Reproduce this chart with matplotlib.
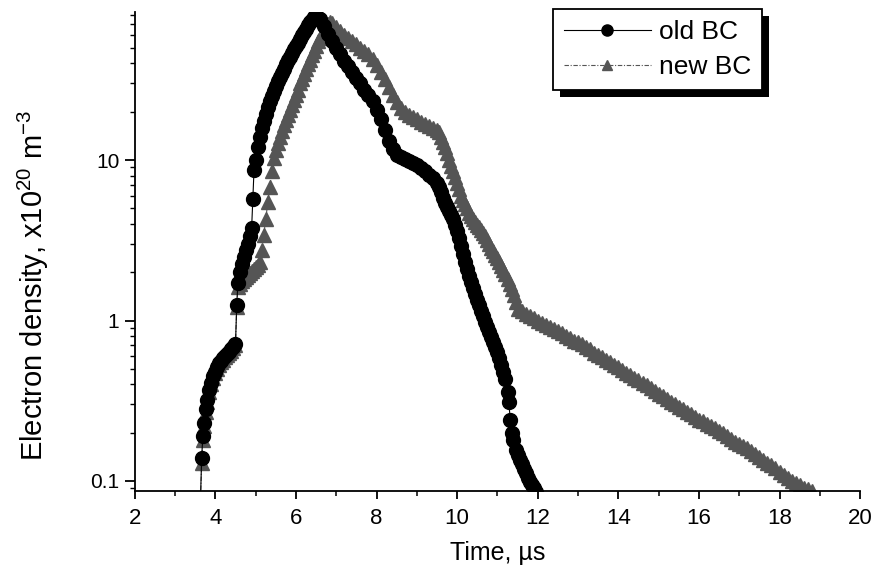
"""
Electron density vs time for the old and new boundary conditions.
"""

import matplotlib

matplotlib.use("Agg")
from matplotlib import pyplot as plt
from matplotlib.patches import Rectangle
from matplotlib.ticker import FixedLocator, FuncFormatter, LogLocator, MultipleLocator
from matplotlib.transforms import IdentityTransform

plt.rcParams["font.family"] = ["Liberation Sans", "DejaVu Sans"]
plt.rcParams["mathtext.fontset"] = "custom"
plt.rcParams["mathtext.rm"] = "Liberation Sans"
plt.rcParams["mathtext.it"] = "Liberation Sans:italic"

# old BC (circles), time in us, density in 1e20 m^-3
t_old = [
    3.62, 3.66, 3.69, 3.72, 3.76, 3.80, 3.85, 3.90, 3.95, 4.00, 4.05, 4.10,
    4.15, 4.20, 4.25, 4.30, 4.35, 4.40, 4.45, 4.50, 4.53, 4.56, 4.60, 4.65,
    4.70, 4.75, 4.80, 4.85, 4.90, 4.93, 4.96, 5.00, 5.05, 5.10, 5.15, 5.20,
    5.25, 5.30, 5.35, 5.40, 5.45, 5.50, 5.55, 5.60, 5.65, 5.70, 5.75, 5.80,
    5.85, 5.90, 5.95, 6.00, 6.05, 6.10, 6.15, 6.20, 6.25, 6.30, 6.35, 6.40,
    6.45, 6.50, 6.60, 6.70, 6.80, 6.90, 7.00, 7.10, 7.20, 7.30, 7.40, 7.50,
    7.60, 7.70, 7.80, 7.90, 8.00, 8.10, 8.20, 8.30, 8.40, 8.50, 8.60, 8.70,
    8.80, 8.90, 9.00, 9.10, 9.20, 9.30, 9.40, 9.50, 9.55, 9.60, 9.65, 9.70,
    9.75, 9.80, 9.85, 9.90, 9.95, 10.0, 10.05, 10.1, 10.15, 10.2, 10.25, 10.3,
    10.35, 10.4, 10.45, 10.5, 10.55, 10.6, 10.65, 10.7, 10.75, 10.8, 10.85, 10.9,
    10.95, 11.0, 11.05, 11.1, 11.15, 11.2, 11.25, 11.28, 11.32, 11.35, 11.38, 11.45,
    11.5, 11.55, 11.6, 11.65, 11.7, 11.75, 11.8, 11.85, 11.9, 11.95,
]
n_old = [
    0.06, 0.14, 0.19, 0.23, 0.28, 0.32, 0.37, 0.41, 0.45, 0.48, 0.51, 0.54,
    0.56, 0.58, 0.60, 0.62, 0.64, 0.66, 0.68, 0.71, 1.25, 1.71, 2.0, 2.25,
    2.5, 2.75, 3.0, 3.35, 3.75, 5.7, 8.7, 10.0, 12.0, 14.0, 15.8, 17.5,
    19.5, 21.3, 23.2, 25.0, 27.0, 29.0, 31.0, 33.0, 35.0, 37.2, 39.5, 41.8,
    44.0, 46.5, 49.0, 51.5, 54.0, 57.0, 60.0, 63.0, 66.0, 69.0, 72.0, 75.0,
    77.5, 80.0, 76.0, 68.0, 61.0, 55.0, 50.0, 45.5, 41.5, 38.5, 35.5, 32.5,
    30.0, 27.5, 25.3, 23.2, 20.5, 18.0, 15.5, 13.2, 11.7, 10.8, 10.5, 10.2,
    9.9, 9.6, 9.3, 8.9, 8.5, 8.1, 7.7, 7.2, 6.8, 6.3, 5.8, 5.4,
    5.1, 4.8, 4.55, 4.3, 3.95, 3.6, 3.25, 2.9, 2.6, 2.3, 2.1, 1.9,
    1.75, 1.6, 1.47, 1.35, 1.25, 1.15, 1.06, 0.98, 0.91, 0.85, 0.79, 0.73,
    0.68, 0.64, 0.58, 0.53, 0.48, 0.43, 0.36, 0.31, 0.24, 0.20, 0.18, 0.155,
    0.145, 0.135, 0.127, 0.119, 0.112, 0.105, 0.099, 0.094, 0.09, 0.085,
]

# new BC (triangles)
t_new = [
    3.62, 3.66, 3.69, 3.72, 3.76, 3.80, 3.85, 3.90, 3.95, 4.00, 4.05, 4.10,
    4.15, 4.20, 4.25, 4.30, 4.35, 4.40, 4.45, 4.50, 4.53, 4.56, 4.60, 4.65,
    4.70, 4.75, 4.80, 4.85, 4.90, 4.95, 5.00, 5.05, 5.10, 5.15, 5.20, 5.25,
    5.30, 5.35, 5.40, 5.45, 5.50, 5.55, 5.60, 5.65, 5.70, 5.75, 5.80, 5.85,
    5.90, 5.95, 6.00, 6.05, 6.10, 6.15, 6.20, 6.25, 6.30, 6.35, 6.40, 6.45,
    6.50, 6.55, 6.60, 6.65, 6.70, 6.75, 6.80, 6.85, 6.90, 7.00, 7.10, 7.20,
    7.30, 7.40, 7.50, 7.60, 7.70, 7.80, 7.90, 8.00, 8.10, 8.20, 8.30, 8.40,
    8.50, 8.60, 8.70, 8.80, 8.90, 9.00, 9.10, 9.20, 9.30, 9.40, 9.50, 9.55,
    9.60, 9.65, 9.70, 9.75, 9.80, 9.85, 9.90, 9.95, 10.0, 10.05, 10.1, 10.15,
    10.2, 10.25, 10.3, 10.35, 10.4, 10.45, 10.5, 10.55, 10.6, 10.65, 10.7, 10.75,
    10.8, 10.85, 10.9, 10.95, 11.0, 11.05, 11.1, 11.15, 11.2, 11.25, 11.3, 11.35,
    11.4, 11.45, 11.5, 11.6, 11.7, 11.8, 11.9,
    12.0, 12.1, 12.2, 12.3, 12.4, 12.5, 12.6, 12.7, 12.8, 12.9, 13.0, 13.1,
    13.2, 13.3, 13.4, 13.5, 13.6, 13.7, 13.8, 13.9, 14.0, 14.1, 14.2, 14.3,
    14.4, 14.5, 14.6, 14.7, 14.8, 14.9, 15.0, 15.1, 15.2, 15.3, 15.4, 15.5,
    15.6, 15.7, 15.8, 15.9, 16.0, 16.1, 16.2, 16.3, 16.4, 16.5, 16.6, 16.7,
    16.8, 16.9, 17.0, 17.1, 17.2, 17.3, 17.4, 17.5, 17.6, 17.7, 17.8, 17.9,
    18.0, 18.1, 18.2, 18.3, 18.4, 18.5, 18.6, 18.7, 18.8,
]
n_new = [
    0.06, 0.13, 0.18, 0.22, 0.27, 0.31, 0.36, 0.40, 0.44, 0.47, 0.50, 0.53,
    0.55, 0.57, 0.59, 0.61, 0.63, 0.65, 0.67, 0.70, 1.22, 1.62, 1.70, 1.76,
    1.82, 1.88, 1.93, 1.98, 2.03, 2.09, 2.15, 2.22, 2.32, 2.75, 3.4, 4.3,
    5.5, 6.8, 8.5, 10.3, 11.5, 12.7, 13.9, 15.2, 16.5, 17.7, 19.0, 20.5,
    22.0, 23.7, 25.5, 27.5, 30.0, 32.0, 34.5, 37.0, 39.5, 42.0, 45.0, 48.0,
    51.5, 55.0, 58.0, 61.0, 64.5, 67.5, 70.5, 72.0, 71.0, 67.5, 64.0, 60.5,
    57.5, 55.0, 52.5, 50.0, 48.0, 45.5, 42.5, 39.0, 35.5, 32.0, 28.5, 25.5,
    23.0, 21.0, 20.0, 19.2, 18.5, 17.9, 17.3, 16.8, 16.3, 15.9, 15.5, 14.9,
    14.0, 13.0, 12.0, 11.0, 10.0, 9.2, 8.5, 7.8, 7.2, 6.6, 6.0, 5.6,
    5.3, 5.0, 4.7, 4.5, 4.3, 4.1, 3.95, 3.8, 3.65, 3.5, 3.35, 3.18,
    3.0, 2.85, 2.7, 2.57, 2.45, 2.32, 2.2, 2.07, 1.95, 1.82, 1.7, 1.57,
    1.45, 1.3, 1.18, 1.14, 1.10, 1.07, 1.03,
    1.0, 0.97, 0.94, 0.91, 0.88, 0.86, 0.83, 0.80, 0.78, 0.75, 0.73, 0.71,
    0.68, 0.66, 0.63, 0.61, 0.59, 0.57, 0.55, 0.53, 0.51, 0.49, 0.47, 0.455,
    0.44, 0.425, 0.41, 0.395, 0.38, 0.365, 0.35, 0.34, 0.325, 0.31, 0.30, 0.29,
    0.28, 0.27, 0.26, 0.25, 0.24, 0.235, 0.228, 0.22, 0.213, 0.205, 0.198, 0.19,
    0.183, 0.176, 0.17, 0.165, 0.16, 0.154, 0.148, 0.142, 0.136, 0.13, 0.125, 0.12,
    0.114, 0.109, 0.104, 0.100, 0.097, 0.094, 0.091, 0.089, 0.087,
]

y_ticks = [0.1, 1, 10]

fig = plt.figure(figsize=(8.75, 5.79), dpi=100)
ax = fig.add_axes([0.154, 0.152, 0.829, 0.827])

ax.plot(t_new, n_new, color="#555555", lw=0.8, ls=(0, (4, 1.5, 1, 1.5)),
        marker="^", ms=9.5, mec="#555555", mfc="#555555", label="new BC")
ax.plot(t_old, n_old, color="black", lw=0.8, ls="-",
        marker="o", ms=10, mec="black", mfc="black", label="old BC")

ax.set_yscale("log")
ax.set_xlim(2, 20)
ax.set_ylim(0.0866, 83.5)

ax.xaxis.set_major_locator(MultipleLocator(2))
ax.xaxis.set_minor_locator(MultipleLocator(1))
ax.yaxis.set_major_locator(FixedLocator(y_ticks))
ax.yaxis.set_major_formatter(FuncFormatter(lambda v, p: f"{v:g}"))
ax.yaxis.set_minor_locator(LogLocator(base=10, subs=range(2, 10)))
ax.yaxis.set_minor_formatter(FuncFormatter(lambda v, p: ""))

ax.spines["top"].set_visible(False)
ax.spines["right"].set_visible(False)
for s in ("left", "bottom"):
    ax.spines[s].set_linewidth(1.3)

ax.tick_params(axis="x", which="major", direction="out", length=6, width=1.3,
               labelsize=16, pad=6)
ax.tick_params(axis="x", which="minor", direction="out", length=3.5, width=1.1)
ax.tick_params(axis="y", which="major", direction="out", length=7, width=1.3,
               labelsize=15, pad=4)
ax.tick_params(axis="y", which="minor", direction="out", length=3.5, width=1.0)

ax.set_xlabel("Time, µs", fontsize=18, labelpad=9)
ax.set_ylabel("Electron density, x10$^{20}$ m$^{-3}$", fontsize=21)
ax.yaxis.set_label_coords(-0.115, 0.43)

handles, labels = ax.get_legend_handles_labels()
leg = ax.legend(handles[::-1], labels[::-1], loc="upper right",
                bbox_to_anchor=(0.871, 0.984), bbox_transform=fig.transFigure,
                borderaxespad=0, fontsize=19, handlelength=3.3, handletextpad=0.3,
                fancybox=False, framealpha=1, edgecolor="black",
                borderpad=0.42, labelspacing=0.4, markerscale=0.8)
leg.get_frame().set_linewidth(1.3)

# heavy black drop shadow behind the legend box
fig.canvas.draw()
bb = leg.get_window_extent()
ax.add_patch(Rectangle((bb.x0 + 7, bb.y0 - 7), bb.width, bb.height,
                       transform=IdentityTransform(), facecolor="black",
                       edgecolor="none", zorder=4.9, clip_on=False))

fig.savefig("out.png", dpi=100)
